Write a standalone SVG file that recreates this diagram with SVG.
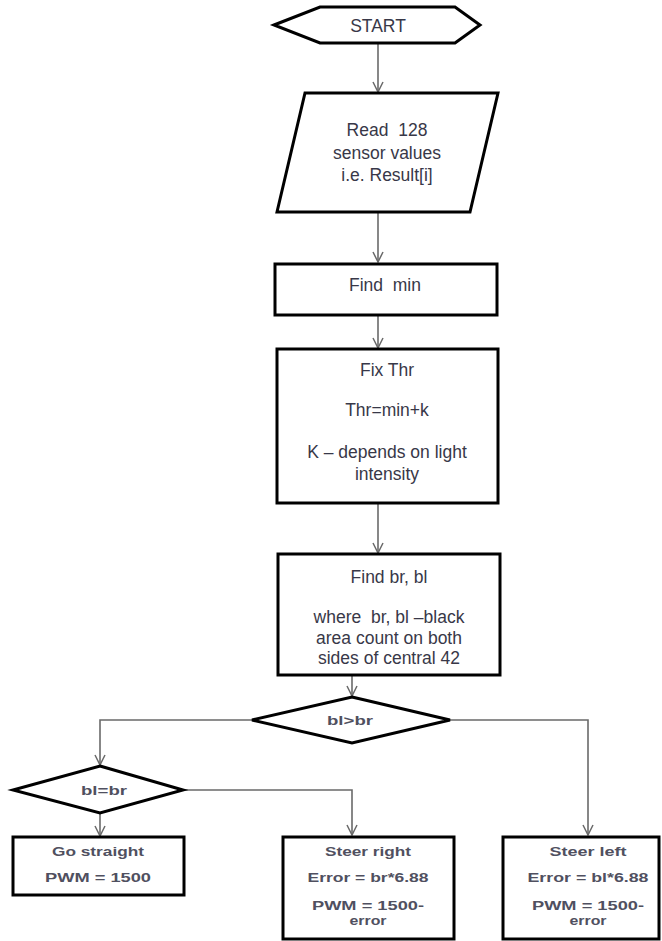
<svg xmlns="http://www.w3.org/2000/svg" width="662" height="941" viewBox="0 0 662 941">
<style>
.shape{fill:#fff;stroke:#000;stroke-width:3;stroke-linejoin:miter}
.conn{fill:none;stroke:#6a6a6a;stroke-width:1.6}
.t{font-family:"Liberation Sans",Arial,sans-serif;font-size:17.5px;fill:#383848;text-anchor:middle;dominant-baseline:central;white-space:pre}
.s{font-family:"Liberation Sans",Arial,sans-serif;font-size:13px;font-weight:bold;fill:#505060;text-anchor:middle;dominant-baseline:central}
</style>
<defs>
<marker id="arr" viewBox="0 0 12 12" refX="11" refY="6" markerWidth="12" markerHeight="12" markerUnits="userSpaceOnUse" orient="auto">
<path d="M1,1 L11,6 L1,11" fill="none" stroke="#6a6a6a" stroke-width="1.5"/>
</marker>
</defs>
<rect width="662" height="941" fill="#fff"/>
<g id="connectors">
<path class="conn" d="M378,43 V92" marker-end="url(#arr)"/>
<path class="conn" d="M378,212 V262" marker-end="url(#arr)"/>
<path class="conn" d="M378,315 V348" marker-end="url(#arr)"/>
<path class="conn" d="M378,503 V553" marker-end="url(#arr)"/>
<path class="conn" d="M352,675 V696" marker-end="url(#arr)"/>
<path class="conn" d="M252,720 H100 V765" marker-end="url(#arr)"/>
<path class="conn" d="M450,720 H588 V835" marker-end="url(#arr)"/>
<path class="conn" d="M183,790 H352 V835" marker-end="url(#arr)"/>
<path class="conn" d="M100,813 V836" marker-end="url(#arr)"/>
</g>
<g id="start">
<polygon class="shape" points="274,25 320,7 455,7 480,25 455,43 320,43"/>
<text class="t" x="378" y="26">START</text>
</g>
<g id="read">
<polygon class="shape" points="305,93 498,93 470,212 277,212"/>
<text class="t" x="387" y="130" xml:space="preserve">Read  128</text>
<text class="t" x="387" y="153">sensor values</text>
<text class="t" x="387" y="175">i.e. Result[i]</text>
</g>
<g id="findmin">
<rect class="shape" x="275" y="264" width="222" height="51"/>
<text class="t" x="385" y="285" xml:space="preserve">Find  min</text>
</g>
<g id="fixthr">
<rect class="shape" x="277" y="349" width="221" height="154"/>
<text class="t" x="387" y="370">Fix Thr</text>
<text class="t" x="387" y="410">Thr=min+k</text>
<text class="t" x="387" y="452">K – depends on light</text>
<text class="t" x="387" y="474">intensity</text>
</g>
<g id="findbrbl">
<rect class="shape" x="278" y="554" width="222" height="121"/>
<text class="t" x="389" y="577">Find br, bl</text>
<text class="t" x="389" y="617" xml:space="preserve">where  br, bl –black</text>
<text class="t" x="389" y="638">area count on both</text>
<text class="t" x="389" y="658">sides of central 42</text>
</g>
<g id="blgtbr">
<polygon class="shape" points="352,697 450,720 352,743 252,720"/>
<text class="s" x="350" y="720" textLength="46" lengthAdjust="spacingAndGlyphs">bl&gt;br</text>
</g>
<g id="bleqbr">
<polygon class="shape" points="100,766 183,790 100,813 13,790"/>
<text class="s" x="104" y="790" textLength="46" lengthAdjust="spacingAndGlyphs">bl=br</text>
</g>
<g id="gostraight">
<rect class="shape" x="13" y="837" width="171" height="58"/>
<text class="s" x="98" y="851" textLength="92" lengthAdjust="spacingAndGlyphs">Go straight</text>
<text class="s" x="98" y="877" textLength="106" lengthAdjust="spacingAndGlyphs">PWM = 1500</text>
</g>
<g id="steerright">
<rect class="shape" x="283" y="837" width="171" height="102"/>
<text class="s" x="368" y="851" textLength="86" lengthAdjust="spacingAndGlyphs">Steer right</text>
<text class="s" x="368" y="877" textLength="121" lengthAdjust="spacingAndGlyphs">Error = br*6.88</text>
<text class="s" x="368" y="905" textLength="112" lengthAdjust="spacingAndGlyphs">PWM = 1500-</text>
<text class="s" x="368" y="920" textLength="37" lengthAdjust="spacingAndGlyphs">error</text>
</g>
<g id="steerleft">
<rect class="shape" x="503" y="837" width="156" height="102"/>
<text class="s" x="588" y="851" textLength="77" lengthAdjust="spacingAndGlyphs">Steer left</text>
<text class="s" x="588" y="877" textLength="121" lengthAdjust="spacingAndGlyphs">Error = bl*6.88</text>
<text class="s" x="588" y="905" textLength="112" lengthAdjust="spacingAndGlyphs">PWM = 1500-</text>
<text class="s" x="588" y="920" textLength="37" lengthAdjust="spacingAndGlyphs">error</text>
</g>
</svg>
